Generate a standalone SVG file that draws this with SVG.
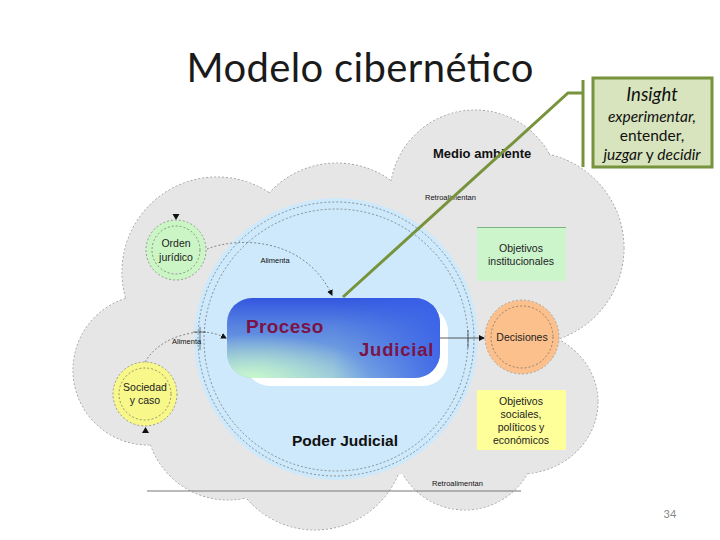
<svg xmlns="http://www.w3.org/2000/svg" width="720" height="540" viewBox="0 0 720 540">
<style>
.lobe{fill:#e6e6e6;stroke:#7a7a7a;stroke-width:0.7;stroke-dasharray:2 2}
.lobefill{fill:#e6e6e6;stroke:none}
.sans{font-family:"Liberation Sans",Arial,sans-serif}
.cal{font-family:Lato,"Open Sans",sans-serif}
.small{font-family:"Liberation Sans",Arial,sans-serif;font-size:7.5px;fill:#111}
.lbl{font-family:"Liberation Sans",Arial,sans-serif;font-size:10.5px;fill:#222;text-anchor:middle}
.dash{fill:none;stroke:#555;stroke-width:0.6;stroke-dasharray:2 2}
.conn{fill:none;stroke:#444;stroke-width:0.6;stroke-dasharray:2 2}
</style>
<defs>
<linearGradient id="gV" x1="0" y1="0" x2="0" y2="1">
<stop offset="0" stop-color="#3356e0"/>
<stop offset="0.35" stop-color="#5884e0"/>
<stop offset="1" stop-color="#8cbce0"/>
</linearGradient>
<radialGradient id="gR" cx="0.12" cy="1" r="0.55">
<stop offset="0" stop-color="#c8f8cc" stop-opacity="1"/>
<stop offset="1" stop-color="#c8f8cc" stop-opacity="0"/>
</radialGradient>
<linearGradient id="gH" x1="0" y1="0" x2="1" y2="0">
<stop offset="0.5" stop-color="#3a62e8" stop-opacity="0"/>
<stop offset="1" stop-color="#3a62e8" stop-opacity="0.9"/>
</linearGradient>
<marker id="ah" viewBox="0 0 6 6" refX="5" refY="3" markerWidth="6" markerHeight="6" orient="auto" markerUnits="userSpaceOnUse">
<path d="M0,0 L6,3 L0,6 Z" fill="#111"/>
</marker>
</defs>
<rect width="720" height="540" fill="#ffffff"/>

<text x="360" y="82" class="cal" font-size="40" text-anchor="middle" fill="#1a1a1a" textLength="347">Modelo cibernético</text>

<g id="medio-ambiente">
<circle class="lobe" cx="475" cy="195" r="85"/>
<circle class="lobe" cx="337" cy="255" r="92"/>
<circle class="lobe" cx="217" cy="272" r="95"/>
<circle class="lobe" cx="148" cy="370" r="75"/>
<circle class="lobe" cx="228" cy="418" r="82"/>
<circle class="lobe" cx="315" cy="440" r="90"/>
<circle class="lobe" cx="465" cy="438" r="72"/>
<ellipse class="lobe" cx="520" cy="402" rx="78" ry="72"/>
<circle class="lobe" cx="528" cy="248" r="96"/>
<circle class="lobefill" cx="475" cy="195" r="84.5"/>
<circle class="lobefill" cx="337" cy="255" r="91.5"/>
<circle class="lobefill" cx="217" cy="272" r="94.5"/>
<circle class="lobefill" cx="148" cy="370" r="74.5"/>
<circle class="lobefill" cx="228" cy="418" r="81.5"/>
<circle class="lobefill" cx="315" cy="440" r="89.5"/>
<circle class="lobefill" cx="465" cy="438" r="71.5"/>
<ellipse class="lobefill" cx="520" cy="402" rx="77.5" ry="71.5"/>
<circle class="lobefill" cx="528" cy="248" r="95.5"/>
<ellipse class="lobefill" cx="350" cy="330" rx="190" ry="150"/>
<text x="433" y="158" class="sans" font-size="13" font-weight="bold" fill="#111">Medio ambiente</text>
</g>

<g id="poder-judicial">
<ellipse cx="336" cy="339" rx="142" ry="141" fill="#cde9fb"/>
<ellipse class="dash" cx="336" cy="339" rx="138" ry="137"/>
<ellipse class="dash" cx="336" cy="340" rx="132" ry="131"/>
<text x="345" y="446" class="sans" font-size="15.5" font-weight="bold" fill="#111" text-anchor="middle">Poder Judicial</text>
</g>

<line x1="147" y1="491" x2="521" y2="491" stroke="#777" stroke-width="1"/>
<text x="425" y="200" class="small">Retroalimentan</text>
<text x="432" y="486" class="small">Retroalimentan</text>

<g id="orden-juridico">
<circle cx="176" cy="250" r="30" fill="#ccf5c6" stroke="#666" stroke-width="0.6" stroke-dasharray="2 2"/>
<circle class="dash" cx="176" cy="250" r="24" stroke="#777"/>
<text x="176" y="247" class="lbl">Orden</text>
<text x="176" y="261" class="lbl">jurídico</text>
</g>

<g id="sociedad-caso">
<circle cx="145" cy="394" r="32" fill="#f7f78a" stroke="#666" stroke-width="0.6" stroke-dasharray="2 2"/>
<circle class="dash" cx="145" cy="394" r="26" stroke="#777"/>
<text x="145" y="391" class="lbl">Sociedad</text>
<text x="145" y="404" class="lbl">y caso</text>
</g>

<g id="decisiones">
<circle cx="522" cy="337" r="37" fill="#fbc08c" stroke="#888" stroke-width="0.6" stroke-dasharray="2 2"/>
<circle class="dash" cx="522" cy="337" r="31" stroke="#777"/>
<text x="522" y="341" class="lbl">Decisiones</text>
</g>

<g id="objetivos-institucionales">
<rect x="477" y="227" width="89" height="54" fill="#ccf5cc"/>
<line x1="477" y1="227.5" x2="566" y2="227.5" stroke="#7fb07f" stroke-width="1"/>
<text x="521" y="252" class="lbl">Objetivos</text>
<text x="521" y="265" class="lbl">institucionales</text>
</g>

<g id="objetivos-sociales">
<rect x="477" y="390" width="89" height="60" fill="#ffff99"/>
<text x="521" y="405" class="lbl">Objetivos</text>
<text x="521" y="418" class="lbl">sociales,</text>
<text x="521" y="431" class="lbl">políticos y</text>
<text x="521" y="444" class="lbl">económicos</text>
</g>

<g id="proceso-judicial">
<rect x="245" y="306" width="203" height="80" rx="25" fill="#ffffff"/>
<rect x="227" y="298" width="213" height="80" rx="25" fill="url(#gV)"/>
<rect x="227" y="298" width="213" height="80" rx="25" fill="url(#gR)"/>
<rect x="227" y="298" width="213" height="80" rx="25" fill="url(#gH)"/>
<text x="246" y="333" class="sans" font-size="19" font-weight="bold" fill="#7b1347" letter-spacing="0.4">Proceso</text>
<text x="359" y="356" class="sans" font-size="18.5" font-weight="bold" fill="#7b1347" letter-spacing="0.8">Judicial</text>
</g>

<g id="connectors">
<path class="conn" d="M207,249 C240,236 305,238 332,295" marker-end="url(#ah)"/>
<text x="275" y="263" class="small" text-anchor="middle" font-size="6.5">Alimenta</text>
<path class="conn" d="M145,362 C155,345 175,334 200,332 C212,332 220,335 226,338" marker-end="url(#ah)"/>
<line x1="200" y1="327" x2="200" y2="350" stroke="#444" stroke-width="0.7"/>
<line x1="193" y1="332" x2="206" y2="332" stroke="#444" stroke-width="0.7"/>
<text x="172" y="344" class="small" font-size="6.5">Alimenta</text>
<line x1="440" y1="338" x2="484" y2="338" stroke="#333" stroke-width="0.8" marker-end="url(#ah)"/>
<line x1="468" y1="330" x2="468" y2="348" stroke="#333" stroke-width="0.7"/>
<path d="M172.5,214 L179.5,214 L176,220 Z" fill="#111"/>
<path d="M142,433 L149,433 L145.5,427 Z" fill="#111"/>
</g>

<g id="insight">
<polyline points="343,297 568,93 583,93" fill="none" stroke="#77933c" stroke-width="3"/>
<line x1="583" y1="80" x2="583" y2="167" stroke="#77933c" stroke-width="3"/>
<rect x="593" y="78" width="119" height="89" fill="#d7e4bd" stroke="#77933c" stroke-width="3"/>
<text x="652" y="101" class="cal" font-size="18.5" font-style="italic" text-anchor="middle" fill="#111">Insight</text>
<text x="652" y="122" class="cal" font-size="15.5" font-style="italic" text-anchor="middle" fill="#111">experimentar,</text>
<text x="652" y="141" class="cal" font-size="15.5" text-anchor="middle" fill="#111">entender,</text>
<text x="652" y="160" class="cal" font-size="15.5" text-anchor="middle" fill="#111"><tspan font-style="italic">juzgar</tspan> y <tspan font-style="italic">decidir</tspan></text>
</g>

<text x="670" y="518" class="cal" font-size="11" text-anchor="middle" fill="#888">34</text>
</svg>
